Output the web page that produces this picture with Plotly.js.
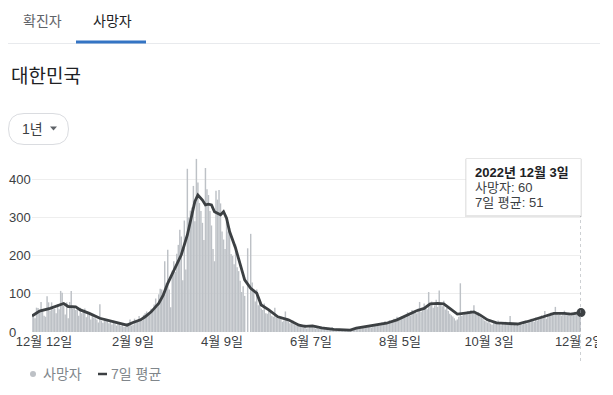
<!DOCTYPE html>
<html>
<head>
<meta charset="utf-8">
<script src="https://cdn.plot.ly/plotly-3.0.1.min.js"></script>
<style>
html,body{margin:0;padding:0;background:#fff;overflow:hidden;}
#chart{width:613px;height:395px;}
</style>
</head>
<body>
<div id="chart"></div>
<script>
// ---- data (daily deaths, South Korea, 2021-12-04 .. 2022-12-03) ----
const startDate = '2021-12-04';
const deathsDec21 = [43,40,36,64,63,53,79,55,43,40,94,78,56,78,60,61,49,73,60,108,103,69,46,78,36,79,108,62];
const deathsJan22 = [65,58,60,43,64,49,52,62,39,48,46,33,45,38,36,33,25,73,30,24,32,33,31,23,27,20,30,23,17,21,24];
const deathsFeb22 = [16,22,13,14,23,20,33,17,19,35,28,27,42,35,30,45,49,54,45,52,61,58,72,88,66,99,114,112];
const deathsMar22 = [96,186,128,216,112,65,161,186,158,206,229,269,251,136,293,164,429,301,319,327,384,291,455,393,339,318,287,242,431,375,360];
const deathsApr22 = [318,280,218,186,371,348,373,338,264,243,218,290,264,273,205,200,178,230,170,160,135,105,120,95,0,220,0,258,130,105];
const deathsMay22 = [80,112,70,84,62,58,75,49,48,55,58,43,40,64,38,36,35,40,27,30,54,32,28,23,25,30,20,18,17,15,14];
const deathsJun22 = [15,12,20,9,10,16,13,14,18,9,11,8,12,14,10,8,12,9,11,7,13,10,6,9,8,7,5,6,8,4];
const deathsJul22 = [5,4,7,3,8,6,12,9,11,10,14,12,16,13,17,15,12,18,20,17,21,19,18,25,22,28,26,21,31,27,30];
const deathsAug22 = [35,28,40,30,33,41,37,45,39,52,46,43,58,50,55,49,62,79,53,57,75,67,60,105,72,80,64,70,85,66,109];
const deathsSep22 = [77,68,82,59,63,55,48,44,41,36,30,33,40,128,42,45,51,47,55,50,58,49,70,54,46,52,41,37,35,30];
const deathsOct22 = [28,25,33,22,19,26,24,21,30,23,18,25,20,27,22,19,42,24,18,21,17,23,20,25,19,28,26,22,31,29,35];
const deathsNov22 = [34,27,38,30,36,41,44,39,55,35,42,48,51,46,47,66,52,45,50,43,48,56,47,44,51,42,49,46,53,45];
const deathsDec22 = [48,51,60];

// 7-day average, read at points along the line
const avgDates = ['2021-12-04','2021-12-09','2021-12-16','2021-12-23','2021-12-25','2021-12-28',
  '2022-01-02','2022-01-05','2022-01-11','2022-01-18','2022-01-25','2022-01-31',
  '2022-02-05','2022-02-09','2022-02-14','2022-02-17','2022-02-21','2022-02-26',
  '2022-03-01','2022-03-04','2022-03-09','2022-03-13','2022-03-17','2022-03-20','2022-03-22','2022-03-24','2022-03-27','2022-03-29','2022-03-31',
  '2022-04-02','2022-04-04','2022-04-08','2022-04-10','2022-04-12','2022-04-14','2022-04-18','2022-04-21','2022-04-24','2022-04-28',
  '2022-05-02','2022-05-05','2022-05-10','2022-05-16','2022-05-23','2022-05-30',
  '2022-06-03','2022-06-08','2022-06-14','2022-06-22',
  '2022-07-03','2022-07-07','2022-07-14','2022-07-21','2022-07-27',
  '2022-08-03','2022-08-10','2022-08-16','2022-08-21','2022-08-25','2022-08-30',
  '2022-09-03','2022-09-07','2022-09-12','2022-09-16','2022-09-21','2022-09-23','2022-09-27',
  '2022-10-02','2022-10-08','2022-10-15','2022-10-22','2022-10-28',
  '2022-11-02','2022-11-08','2022-11-15','2022-11-22','2022-11-26',
  '2022-12-03'];
const avgValues = [42,55,62,71,75,67,
  66,58,49,36,29,23,
  18,25,32,40,53,75,
  97,128,168,203,255,308,343,360,347,334,336,
  334,316,308,316,299,264,220,181,137,115,
  102,71,58,40,32,18,
  15,16,11,7,
  5,10,14,18,23,
  32,45,56,62,74,75,
  74,62,47,49,52,53,45,
  32,24,23,21,27,
  32,40,49,49,47,
  51];

const xTickDates = ['2021-12-12','2022-02-09','2022-04-09','2022-06-07','2022-08-05','2022-10-03','2022-12-02'];
const xTickLabels = ['12월 12일','2월 9일','4월 9일','6월 7일','8월 5일','10월 3일','12월 2일'];
const yTickVals = [0,100,200,300,400];
const yTickLabels = ['0','100','200','300','400'];

const tooltipTitle = '2022년 12월 3일';
const tooltipDeaths = 60;
const tooltipAvg = 51;

// ---- build ----
const deaths = [].concat(deathsDec21,deathsJan22,deathsFeb22,deathsMar22,deathsApr22,deathsMay22,
  deathsJun22,deathsJul22,deathsAug22,deathsSep22,deathsOct22,deathsNov22,deathsDec22);
const dates = deaths.map((_, i) => {
  const d = new Date(startDate + 'T00:00:00Z');
  d.setUTCDate(d.getUTCDate() + i);
  return d.toISOString().slice(0, 10);
});
const endDate = dates[dates.length - 1];

const W = 613, H = 395;
const M = {l: 32, r: 32, t: 157, b: 63};
const PW = W - M.l - M.r, PH = H - M.t - M.b;
const px = x => (x - M.l) / PW;
const py = y => (H - M.b - y) / PH;

const FONT = "Arial, 'Liberation Sans', 'Noto Sans CJK KR', sans-serif";

const traces = [
  {type: 'bar', x: dates, y: deaths, name: '사망자',
   marker: {color: '#bdc1c6', line: {width: 0}}, showlegend: false, hoverinfo: 'skip'},
  {type: 'scatter', mode: 'lines', x: avgDates, y: avgValues, name: '7일 평균',
   line: {color: '#3c4043', width: 2.8}, showlegend: false, hoverinfo: 'skip', cliponaxis: false},
  {type: 'scatter', mode: 'markers', x: [avgDates[avgDates.length-1]], y: [avgValues[avgValues.length-1]],
   marker: {color: '#3c4043', size: 9}, showlegend: false, hoverinfo: 'skip', cliponaxis: false}
];

const annotations = [];
const shapes = [];
// header tabs
annotations.push({text: '확진자', xref: 'paper', yref: 'paper', x: px(42.5), y: py(21), xanchor: 'center', yanchor: 'middle', showarrow: false, font: {family: FONT, size: 14, color: '#5f6368'}});
annotations.push({text: '사망자', xref: 'paper', yref: 'paper', x: px(112.5), y: py(21), xanchor: 'center', yanchor: 'middle', showarrow: false, font: {family: FONT, size: 14, color: '#202124'}});
shapes.push({type: 'line', xref: 'paper', yref: 'paper', x0: px(8), x1: px(600), y0: py(43.5), y1: py(43.5), line: {color: '#e8eaed', width: 1}});
shapes.push({type: 'rect', xref: 'paper', yref: 'paper', x0: px(76), x1: px(146), y0: py(43.5), y1: py(40.5), fillcolor: '#3474c4', line: {width: 0}});
// country title
annotations.push({text: '대한민국', xref: 'paper', yref: 'paper', x: px(9), y: py(76), xanchor: 'left', yanchor: 'middle', showarrow: false, font: {family: FONT, size: 19, color: '#202124'}});
// range button (rounded)
(function(){
  const x0 = 8.5, x1 = 68.5, y0 = 113.5, y1 = 144.5, r = 15.5;
  const P = (x, y) => px(x) + ',' + py(y);
  const path = 'M' + P(x0 + r, y0) + ' L' + P(x1 - r, y0) + ' Q' + P(x1, y0) + ' ' + P(x1, y0 + r) +
    ' L' + P(x1, y1 - r) + ' Q' + P(x1, y1) + ' ' + P(x1 - r, y1) + ' L' + P(x0 + r, y1) +
    ' Q' + P(x0, y1) + ' ' + P(x0, y1 - r) + ' L' + P(x0, y0 + r) + ' Q' + P(x0, y0) + ' ' + P(x0 + r, y0) + ' Z';
  shapes.push({type: 'path', xref: 'paper', yref: 'paper', path: path, line: {color: '#dadce0', width: 1}, fillcolor: 'rgba(0,0,0,0)'});
  const tri = 'M' + P(50, 126.5) + ' L' + P(57, 126.5) + ' L' + P(53.5, 130.5) + ' Z';
  shapes.push({type: 'path', xref: 'paper', yref: 'paper', path: tri, line: {width: 0}, fillcolor: '#5f6368'});
})();
annotations.push({text: '1년', xref: 'paper', yref: 'paper', x: px(20), y: py(128.5), xanchor: 'left', yanchor: 'middle', showarrow: false, font: {family: FONT, size: 14, color: '#3c4043'}});
// y tick labels (left aligned)
yTickVals.forEach((v, i) => {
  annotations.push({text: yTickLabels[i], xref: 'paper', yref: 'y', x: px(7), y: v, xanchor: 'left', yanchor: 'middle', showarrow: false, font: {family: FONT, size: 13, color: '#3c4043'}});
});
// hover line + tooltip
shapes.push({type: 'line', xref: 'x', yref: 'paper', x0: endDate, x1: endDate, y0: py(361), y1: py(215), line: {color: '#9aa0a6', width: 1, dash: 'dot'}, layer: 'above'});
shapes.push({type: 'rect', xref: 'paper', yref: 'paper', x0: px(465), x1: px(582), y0: py(217), y1: py(159), fillcolor: 'rgba(0,0,0,0.10)', line: {width: 0}, layer: 'above'});
shapes.push({type: 'rect', xref: 'paper', yref: 'paper', x0: px(466), x1: px(581), y0: py(215.5), y1: py(158.5), fillcolor: '#ffffff', line: {color: '#e6e6e6', width: 1}, layer: 'above'});
annotations.push({text: '<b>' + tooltipTitle + '</b>', xref: 'paper', yref: 'paper', x: px(473), y: py(172), xanchor: 'left', yanchor: 'middle', showarrow: false, font: {family: FONT, size: 13, color: '#202124'}});
annotations.push({text: '사망자: ' + tooltipDeaths, xref: 'paper', yref: 'paper', x: px(473), y: py(187), xanchor: 'left', yanchor: 'middle', showarrow: false, font: {family: FONT, size: 13, color: '#3c4043'}});
annotations.push({text: '7일 평균: ' + tooltipAvg, xref: 'paper', yref: 'paper', x: px(473), y: py(202), xanchor: 'left', yanchor: 'middle', showarrow: false, font: {family: FONT, size: 13, color: '#3c4043'}});
// legend
shapes.push({type: 'circle', xref: 'paper', yref: 'paper', x0: px(30), x1: px(36), y0: py(377), y1: py(371), fillcolor: '#bdc1c6', line: {width: 0}});
annotations.push({text: '사망자', xref: 'paper', yref: 'paper', x: px(41), y: py(374), xanchor: 'left', yanchor: 'middle', showarrow: false, font: {family: FONT, size: 14, color: '#80868b'}});
shapes.push({type: 'line', xref: 'paper', yref: 'paper', x0: px(98), x1: px(107), y0: py(374), y1: py(374), line: {color: '#3c4043', width: 2.5}});
annotations.push({text: '7일 평균', xref: 'paper', yref: 'paper', x: px(109), y: py(374), xanchor: 'left', yanchor: 'middle', showarrow: false, font: {family: FONT, size: 14, color: '#80868b'}});
// right clip of last tick label
shapes.push({type: 'rect', xref: 'paper', yref: 'paper', x0: px(597), x1: px(613), y0: py(356), y1: py(334), fillcolor: '#ffffff', line: {width: 0}, layer: 'above'});

const layout = {
  width: W, height: H,
  margin: M,
  paper_bgcolor: '#ffffff', plot_bgcolor: '#ffffff',
  font: {family: FONT, size: 13, color: '#3c4043'},
  bargap: 0.04,
  hovermode: false,
  showlegend: false,
  xaxis: {type: 'date', range: [startDate, endDate], tickmode: 'array', tickvals: xTickDates, ticktext: xTickLabels,
          showgrid: false, zeroline: false, showline: false, ticks: '', tickfont: {family: FONT, size: 13, color: '#3c4043'}, fixedrange: true},
  yaxis: {range: [0, 460], tickmode: 'array', tickvals: yTickVals, showticklabels: false, showgrid: true,
          gridcolor: '#eeeeee', gridwidth: 1, zeroline: false, showline: false, ticks: '', fixedrange: true},
  shapes: shapes,
  annotations: annotations
};

Plotly.newPlot('chart', traces, layout, {displayModeBar: false, staticPlot: true});
</script>
</body>
</html>
